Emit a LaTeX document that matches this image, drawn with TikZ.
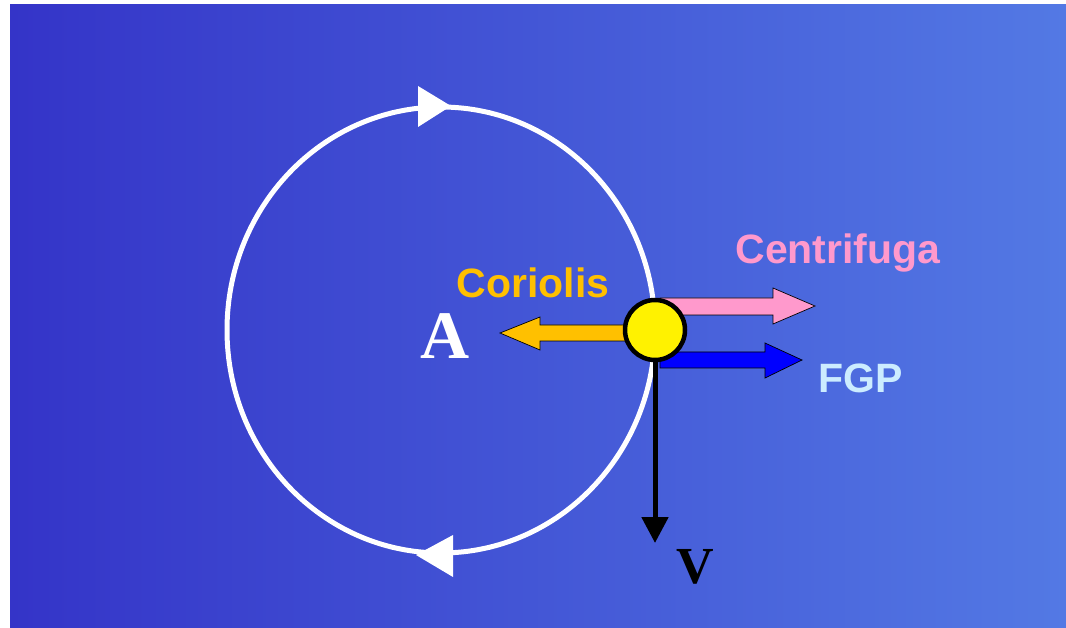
\documentclass[tikz,border=0pt]{standalone}
\usepackage{fontspec}
\setmainfont{Liberation Serif}
\setsansfont{Liberation Sans}
\usetikzlibrary{arrows.meta}

\definecolor{bgleft}{RGB}{52,52,200}
\definecolor{bgright}{RGB}{83,121,228}
\definecolor{coriolisc}{RGB}{255,192,0}
\definecolor{centrifc}{RGB}{255,153,204}
\definecolor{fgpc}{RGB}{204,236,255}

\begin{document}
\begin{tikzpicture}[x=1pt, y=-1pt, every node/.style={font=\sffamily\bfseries\fontsize{41}{48}\selectfont}]
    \useasboundingbox (0,0) rectangle (1066,628);
    \shade[left color=bgleft, right color=bgright] (10,5) rectangle (1066,628);
    % orbit
    \draw[white, line width=5pt] (441,330) ellipse [x radius=214, y radius=223];
    \fill[white] (451,106) -- (418,86) -- (418,127) -- cycle;
    \fill[white] (416,555) -- (453,535) -- (453,577) -- cycle;
    % forces
    \filldraw[fill=coriolisc, draw=black, line width=0.7pt] (650,325) -- (540,325) -- (540,317)
        -- (500,333) -- (540,350) -- (540,341) -- (650,341) -- cycle;
    \filldraw[fill=centrifc, draw=black, line width=0.7pt] (660,298) -- (773,298) -- (773,288)
        -- (815,306) -- (773,324) -- (773,315) -- (660,315) -- cycle;
    \filldraw[fill=blue, draw=black, line width=0.7pt] (660,352) -- (765,352) -- (765,343)
        -- (802,360) -- (765,378) -- (765,368) -- (660,368) -- cycle;
    \node[circle, fill=yellow, draw=black, line width=4.5pt, minimum size=60pt, inner sep=0pt] (ball) at (655,330) {};
    \coordinate (vtip) at (655,543);
    \draw[line width=5pt, -{Triangle[width=26pt, length=26pt]}] (ball.south) -- (vtip);
    % labels
    \node[coriolisc, anchor=base] (coriolis) at (533,298) {Coriolis};
    \node[centrifc, anchor=base] (centrifuga) at (838,264) {Centrifuga};
    \node[fgpc, anchor=base] (fgp) at (861,392) {FGP};
    \node[white, anchor=base, font=\rmfamily\bfseries\fontsize{68}{70}\selectfont] (A) at (445,359) {A};
    \node[black, anchor=base, font=\rmfamily\bfseries\fontsize{52}{56}\selectfont] (V) at (695,583) {V};
\end{tikzpicture}
\end{document}
